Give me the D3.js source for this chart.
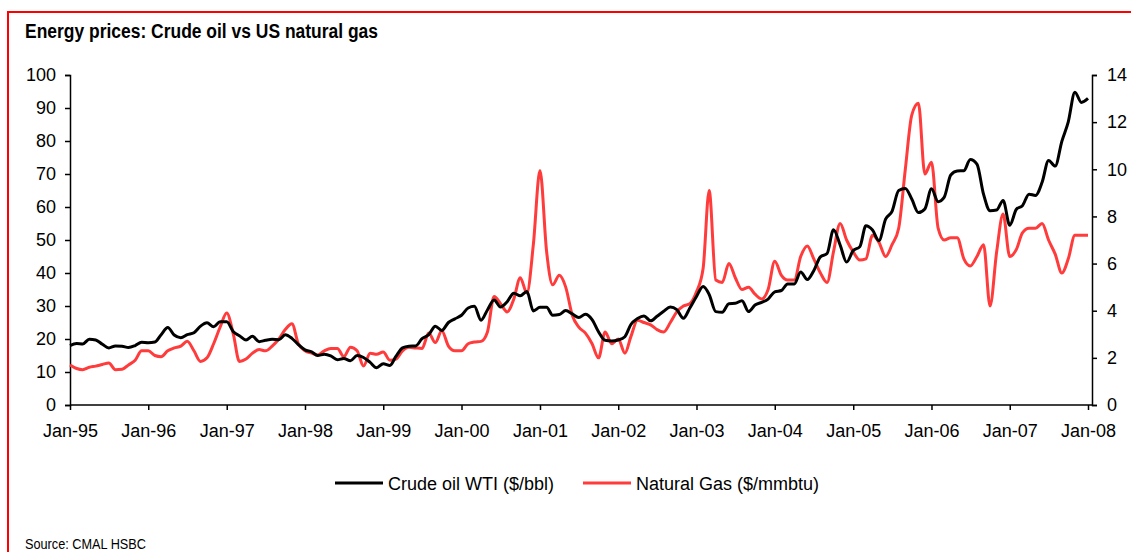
<!DOCTYPE html>
<html>
<head>
<meta charset="utf-8">
<script src="https://cdn.jsdelivr.net/npm/d3@7"></script>
<style>
  body { margin: 0; background: #fff; }
  svg { display: block; }
  .tick text { font-family: "Liberation Sans", Arial, sans-serif; font-size: 18px; fill: #000; }
</style>
</head>
<body>
<div id="chart"></div>
<script>
// chart size
var w = 1131;
var h = 552;

// monthly series, Jan-95 .. Jan-08
var startYear = 1995;

var crudeOil = [
  18.0, 18.6, 18.5, 19.9, 19.7, 18.4, 17.3, 17.9, 17.8, 17.4, 18.0, 19.0,   // 1995
  18.9, 19.1, 21.3, 23.5, 21.2, 20.4, 21.3, 21.9, 23.9, 24.9, 23.7, 25.2,   // 1996
  25.2, 22.2, 21.0, 19.7, 20.8, 19.2, 19.6, 19.9, 19.8, 21.3, 20.2, 18.3,   // 1997
  16.7, 16.1, 15.0, 15.4, 14.9, 13.7, 14.1, 13.4, 15.0, 14.4, 12.9, 11.3,   // 1998
  12.5, 12.0, 14.7, 17.3, 17.8, 17.9, 20.1, 21.3, 23.9, 22.6, 25.0, 26.1,   // 1999
  27.2, 29.4, 29.9, 25.7, 28.8, 31.8, 29.7, 31.3, 33.9, 33.1, 34.4, 28.5,   // 2000
  29.6, 29.6, 27.2, 27.4, 28.6, 27.6, 26.5, 27.5, 25.9, 22.2, 19.6, 19.4,   // 2001
  19.7, 20.7, 24.4, 26.2, 27.0, 25.5, 26.9, 28.4, 29.7, 28.9, 26.3, 29.4,   // 2002
  32.9, 35.9, 33.5, 28.3, 28.1, 30.7, 30.8, 31.6, 28.3, 30.3, 31.1, 32.1,   // 2003
  34.3, 34.7, 36.7, 36.7, 40.3, 38.0, 40.7, 44.9, 45.9, 53.1, 48.5, 43.3,   // 2004
  46.8, 48.0, 54.3, 53.0, 49.8, 56.3, 58.7, 65.0, 65.6, 62.4, 58.3, 59.4,   // 2005
  65.5, 61.6, 62.9, 69.7, 70.9, 71.0, 74.4, 73.0, 63.8, 58.9, 59.1, 62.0,   // 2006
  54.5, 59.3, 60.4, 63.9, 63.5, 67.5, 74.1, 72.4, 79.9, 85.8, 94.8, 91.7,   // 2007
  92.9                                                                        // Jan-08
];

var naturalGas = [
  1.70, 1.55, 1.50, 1.60, 1.65, 1.72, 1.78, 1.50, 1.52, 1.70, 1.90, 2.30,   // 1995
  2.30, 2.10, 2.05, 2.30, 2.42, 2.50, 2.70, 2.30, 1.85, 2.00, 2.60, 3.30,   // 1996
  3.90, 3.00, 1.85, 1.95, 2.20, 2.35, 2.30, 2.50, 2.80, 3.20, 3.45, 2.60,   // 1997
  2.30, 2.20, 2.12, 2.30, 2.40, 2.40, 2.05, 2.45, 2.30, 1.65, 2.20, 2.15,   // 1998
  2.25, 1.90, 1.95, 2.30, 2.45, 2.42, 2.40, 3.05, 2.65, 3.15, 2.50, 2.30,   // 1999
  2.30, 2.60, 2.67, 2.70, 3.10, 4.60, 4.30, 3.95, 4.50, 5.40, 4.75, 6.80,   // 2000
  9.95, 6.50, 5.10, 5.50, 5.00, 3.80, 3.30, 3.05, 2.60, 2.00, 3.10, 2.60,   // 2001
  2.80, 2.20, 2.90, 3.60, 3.50, 3.40, 3.20, 3.10, 3.50, 3.95, 4.20, 4.30,   // 2002
  4.80, 5.80, 9.10, 5.30, 5.20, 6.00, 5.40, 4.90, 5.00, 4.70, 4.50, 4.90,   // 2003
  6.10, 5.50, 5.30, 5.30, 6.30, 6.75, 6.20, 5.60, 5.20, 6.50, 7.70, 7.00,   // 2004
  6.50, 6.15, 6.20, 7.20, 6.90, 6.30, 6.80, 7.50, 10.00, 12.30, 12.80, 9.80, // 2005
  10.30, 7.50, 7.00, 7.10, 7.10, 6.20, 5.90, 6.30, 6.80, 4.20, 6.50, 8.10,   // 2006
  6.30, 6.60, 7.30, 7.50, 7.50, 7.70, 7.00, 6.40, 5.60, 6.20, 7.20, 7.20,   // 2007
  7.20                                                                        // Jan-08
];

var yearTicks = d3.range(1995, 2009);
var oilTicks = d3.range(0, 101, 10);
var gasTicks = d3.range(0, 15, 2);

var seriesNames = ["Crude oil WTI ($/bbl)", "Natural Gas ($/mmbtu)"];
var seriesColors = ["#000000", "#ff3b3b"];

// plot area (don't use "top", it's window.top)
var plotLeft = 70, plotRight = 1092, plotTop = 75, plotBottom = 405;

var svg = d3.select("#chart")
    .append("svg")
    .attr("width", w)
    .attr("height", h);

// red frame, left and top
svg.append("line")
    .attr("x1", 8).attr("x2", 8).attr("y1", 11).attr("y2", h)
    .attr("stroke", "#ff0000").attr("stroke-width", 2);
svg.append("line")
    .attr("x1", 8).attr("x2", w).attr("y1", 12).attr("y2", 12)
    .attr("stroke", "#ff0000").attr("stroke-width", 2);

// title (condensed look)
svg.append("text")
    .attr("x", 25)
    .attr("y", 38)
    .attr("textLength", 353)
    .attr("lengthAdjust", "spacingAndGlyphs")
    .style("font-family", "'Liberation Sans Narrow', 'Liberation Sans', Arial, sans-serif")
    .style("font-weight", "bold")
    .style("font-size", "20px")
    .text("Energy prices: Crude oil vs US natural gas");

// scales
var xScale = d3.scaleTime()
    .domain([new Date(1995, 0, 1), new Date(2008, 0, 1)])
    .range([plotLeft, 1088]);

var yScale = d3.scaleLinear()
    .domain([0, 100])
    .range([plotBottom, plotTop]);

var y2Scale = d3.scaleLinear()
    .domain([0, 14])
    .range([plotBottom, plotTop]);

function monthDate(i) {
    return new Date(startYear, i, 1);
}

// axes
var xAxis = d3.axisBottom(xScale)
    .tickValues(yearTicks.map(function(y) { return new Date(y, 0, 1); }))
    .tickFormat(d3.timeFormat("Jan-%y"))
    .tickSizeOuter(0)
    .tickSize(5)
    .tickPadding(14);

var yAxis = d3.axisLeft(yScale)
    .tickValues(oilTicks)
    .tickSizeOuter(0)
    .tickSize(5)
    .tickPadding(9);

var y2Axis = d3.axisRight(y2Scale)
    .tickValues(gasTicks)
    .tickSizeOuter(0)
    .tickSize(5)
    .tickPadding(10);

var gx = svg.append("g")
    .attr("transform", "translate(0," + plotBottom + ")")
    .call(xAxis);
gx.select(".domain").attr("d", "M" + plotLeft + ",0H" + plotRight);

svg.append("g")
    .attr("transform", "translate(" + plotLeft + ",0)")
    .call(yAxis);

svg.append("g")
    .attr("transform", "translate(" + plotRight + ",0)")
    .call(y2Axis);

svg.selectAll(".domain, .tick line")
    .attr("stroke", "#000")
    .attr("stroke-width", 1.5);

// lines
var oilLine = d3.line()
    .x(function(d, i) { return xScale(monthDate(i)); })
    .y(function(d) { return yScale(d); })
    .curve(d3.curveMonotoneX);

var gasLine = d3.line()
    .x(function(d, i) { return xScale(monthDate(i)); })
    .y(function(d) { return y2Scale(d); })
    .curve(d3.curveMonotoneX);

svg.append("path")
    .datum(naturalGas)
    .attr("d", gasLine)
    .attr("fill", "none")
    .attr("stroke", seriesColors[1])
    .attr("stroke-width", 3)
    .attr("stroke-linejoin", "round");

svg.append("path")
    .datum(crudeOil)
    .attr("d", oilLine)
    .attr("fill", "none")
    .attr("stroke", seriesColors[0])
    .attr("stroke-width", 3)
    .attr("stroke-linejoin", "round");

// legend
var legendX = [335, 583];
seriesNames.forEach(function(name, i) {
    svg.append("line")
        .attr("x1", legendX[i]).attr("x2", legendX[i] + 48)
        .attr("y1", 483).attr("y2", 483)
        .attr("stroke", seriesColors[i])
        .attr("stroke-width", 3);
    svg.append("text")
        .attr("x", legendX[i] + 53)
        .attr("y", 490)
        .style("font-family", "'Liberation Sans', Arial, sans-serif")
        .style("font-size", "18px")
        .text(name);
});

// source
svg.append("text")
    .attr("x", 25)
    .attr("y", 549)
    .attr("textLength", 121)
    .attr("lengthAdjust", "spacingAndGlyphs")
    .style("font-family", "'Liberation Sans Narrow', 'Liberation Sans', Arial, sans-serif")
    .style("font-size", "14px")
    .text("Source: CMAL HSBC");
</script>
</body>
</html>
